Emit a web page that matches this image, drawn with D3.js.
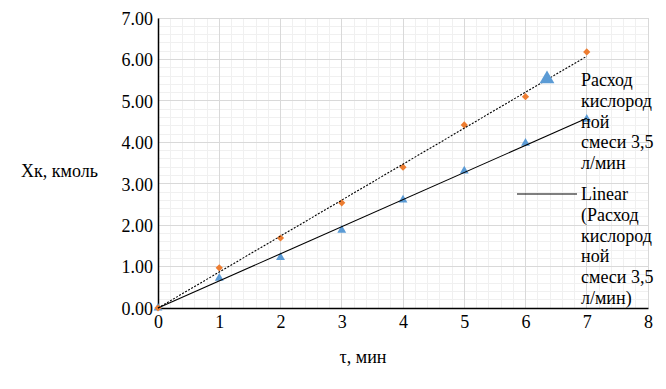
<!DOCTYPE html>
<html><head><meta charset="utf-8">
<script src="https://cdn.jsdelivr.net/npm/d3@7"></script>
<style>
body{margin:0;background:#fff;}
text{font-family:"Liberation Serif","Times New Roman",serif;fill:#000;}
</style></head>
<body><svg id="c" width="666" height="389"></svg>
<script>
const times = [0,1,2,3,4,5,6,7];
const oxygenMix = [0,0.97,1.69,2.54,3.40,4.42,5.10,6.18];   // orange diamonds
const oxygenMix35 = [0,0.72,1.22,1.88,2.61,3.31,3.98,4.56]; // blue triangles
const xTicks = [0,1,2,3,4,5,6,7,8];
const yTicks = [0,1,2,3,4,5,6,7];
const yLabel = "Xк, кмоль";
const xLabel = "τ, мин";
const legendLabels = ["Расход|кислород|ной|смеси 3,5|л/мин", "Linear|(Расход|кислород|ной|смеси 3,5|л/мин)"];

const svg = d3.select("#c");
const x = d3.scaleLinear().domain([0,8]).range([158,648]);
const y = d3.scaleLinear().domain([0,7]).range([308,18]);

// minor grid
const minorX = d3.range(0,8.001,0.2), minorY = d3.range(0,7.001,0.2);
svg.append("g").selectAll("line").data(minorX).join("line")
  .attr("x1",d=>x(d)).attr("x2",d=>x(d)).attr("y1",y(0)).attr("y2",y(7))
  .attr("stroke","#f0f0f0").attr("stroke-width",1).attr("shape-rendering","crispEdges");
svg.append("g").selectAll("line").data(minorY).join("line")
  .attr("y1",d=>y(d)).attr("y2",d=>y(d)).attr("x1",x(0)).attr("x2",x(8))
  .attr("stroke","#f0f0f0").attr("stroke-width",1).attr("shape-rendering","crispEdges");
// major grid
svg.append("g").selectAll("line").data(xTicks).join("line")
  .attr("x1",d=>x(d)).attr("x2",d=>x(d)).attr("y1",y(0)).attr("y2",y(7))
  .attr("stroke","#d9d9d9").attr("stroke-width",1).attr("shape-rendering","crispEdges");
svg.append("g").selectAll("line").data(yTicks).join("line")
  .attr("y1",d=>y(d)).attr("y2",d=>y(d)).attr("x1",x(0)).attr("x2",x(8))
  .attr("stroke","#d9d9d9").attr("stroke-width",1).attr("shape-rendering","crispEdges");

// axes
const xAxis = svg.append("g").attr("transform",`translate(0,${y(0)})`)
  .call(d3.axisBottom(x).tickValues(xTicks).tickSize(0).tickPadding(6).tickFormat(d3.format("d")));
const yAxis = svg.append("g").attr("transform",`translate(${x(0)},0)`)
  .call(d3.axisLeft(y).tickValues(yTicks).tickSize(0).tickPadding(5).tickFormat(d3.format(".2f")));
[xAxis,yAxis].forEach(a=>{
  a.select(".domain").attr("stroke","#000").attr("stroke-width",1.5);
  a.selectAll("text").attr("font-family","'Liberation Serif',serif").attr("font-size",18).attr("fill","#000");
});
yAxis.selectAll("text").attr("dy","0.35em");
xAxis.selectAll("text").attr("dy","0.75em");

// trendlines (least squares through origin)
function slope(xs,ys){let a=0,b=0;xs.forEach((v,i)=>{a+=v*ys[i];b+=v*v;});return a/b;}
const kO = slope(times,oxygenMix), kB = slope(times,oxygenMix35);
const xMax = d3.max(times);

// markers
const gB = svg.append("g");
gB.selectAll("path").data(times).join("path")
  .attr("d",d3.symbol().type(d3.symbolTriangle).size(34))
  .attr("transform",(d,i)=>`translate(${x(d)},${y(oxygenMix35[i])})`)
  .attr("fill","#5B9BD5");
const gO = svg.append("g");
gO.selectAll("path").data(times).join("path")
  .attr("d",d3.symbol().type(d3.symbolSquare).size(26))
  .attr("transform",(d,i)=>`translate(${x(d)},${y(oxygenMix[i])}) rotate(45)`)
  .attr("fill","#ED7D31");

svg.append("line").attr("x1",x(0)).attr("y1",y(0)).attr("x2",x(xMax)).attr("y2",y(kO*xMax))
  .attr("stroke","#000").attr("stroke-width",1.1).attr("stroke-dasharray","2,1.5");
svg.append("line").attr("x1",x(0)).attr("y1",y(0)).attr("x2",x(xMax)).attr("y2",y(kB*xMax))
  .attr("stroke","#000").attr("stroke-width",1.1);

// axis titles
svg.append("text").attr("x",21).attr("y",177).attr("font-size",18).text(yLabel);
svg.append("text").attr("x",363).attr("y",363).attr("text-anchor","middle").attr("font-size",18).text(xLabel);

// legend
const lg = svg.append("g");
lg.append("path").attr("d",d3.symbol().type(d3.symbolTriangle).size(95))
  .attr("transform","translate(547,79)").attr("fill","#5B9BD5");
lg.append("line").attr("x1",517).attr("x2",577).attr("y1",194).attr("y2",194)
  .attr("stroke","#000").attr("stroke-width",1.1);
const starts = [86,200];
legendLabels.forEach((lab,k)=>{
  const t = lg.append("text").attr("x",581).attr("y",starts[k]).attr("font-size",18);
  lab.split("|").forEach((s,i)=>t.append("tspan").attr("x",581).attr("dy",i?20.8:0).text(s));
});
</script></body></html>
